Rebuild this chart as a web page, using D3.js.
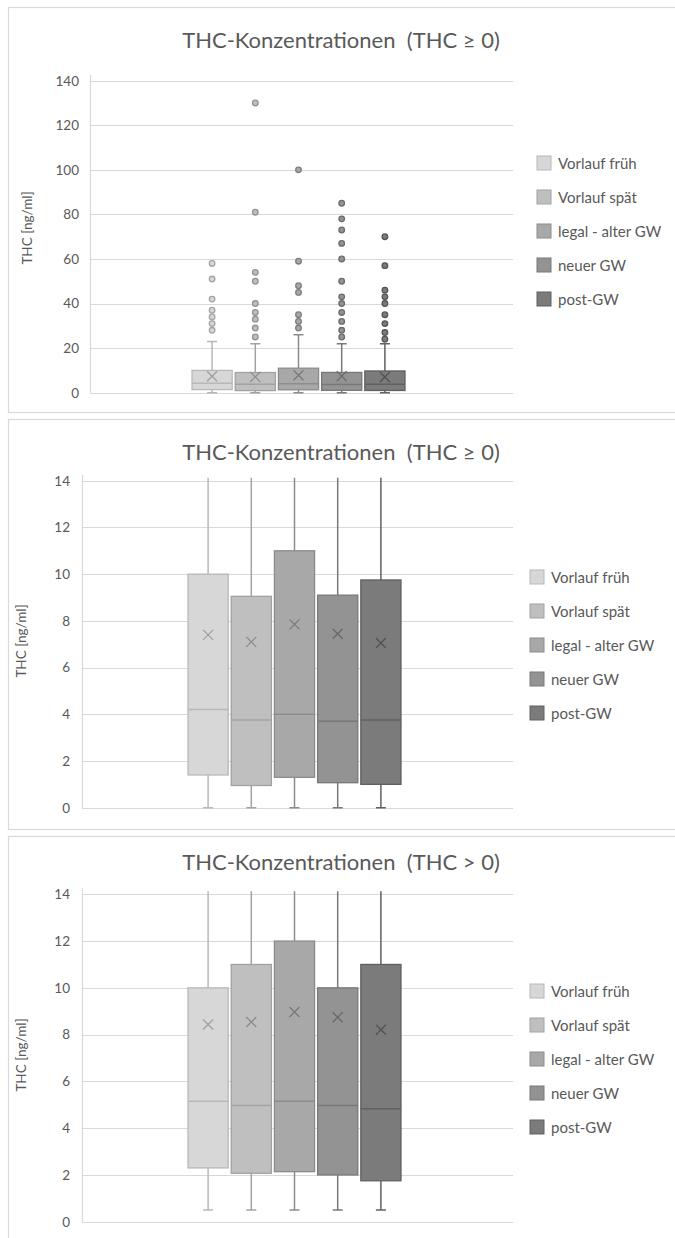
<!DOCTYPE html>
<html>
<head>
<meta charset="utf-8">
<script src="https://cdn.jsdelivr.net/npm/d3@7"></script>
<style>
  html, body { margin: 0; padding: 0; background: #ffffff; }
  svg { display: block; font-family: Lato, "Open Sans", sans-serif; }
</style>
</head>
<body>
<svg id="chart" width="675" height="1238"></svg>
<script>
// ---------- DATA ----------
const categories = ["Vorlauf früh", "Vorlauf spät", "legal - alter GW", "neuer GW", "post-GW"];

// THC >= 0
const q1_ge0       = [1.4, 0.95, 1.3, 1.07, 1.0];
const median_ge0   = [4.2, 3.75, 4.0, 3.7, 3.75];
const q3_ge0       = [10.0, 9.05, 11.0, 9.1, 9.75];
const mean_ge0     = [7.4, 7.1, 7.85, 7.45, 7.05];
const whiskLo_ge0  = [0, 0, 0, 0, 0];
const whiskHi_ge0  = [23, 22, 26, 22, 22];
const outliers_ge0 = [
  [58, 51, 42, 37, 34, 31, 28],
  [130, 81, 54, 50, 40, 36, 33, 29, 25],
  [100, 59, 48, 45, 35, 32, 29],
  [85, 78, 73, 67, 60, 50, 43, 40, 36, 32, 28, 25],
  [70, 57, 46, 43, 40, 35, 31, 27, 24]
];

// THC > 0
const q1_gt0       = [2.3, 2.07, 2.14, 2.0, 1.75];
const median_gt0   = [5.15, 4.97, 5.15, 4.97, 4.83];
const q3_gt0       = [10.0, 11.0, 12.0, 10.0, 11.0];
const mean_gt0     = [8.43, 8.54, 8.97, 8.74, 8.21];
const whiskLo_gt0  = [0.5, 0.5, 0.5, 0.5, 0.5];
const whiskHi_gt0  = [24, 23, 27, 23, 23];
const outliers_gt0 = [[], [], [], [], []];

const ticksWide   = [0, 20, 40, 60, 80, 100, 120, 140];
const ticksNarrow = [0, 2, 4, 6, 8, 10, 12, 14];

const titles = ["THC-Konzentrationen  (THC \u2265 0)", "THC-Konzentrationen  (THC \u2265 0)", "THC-Konzentrationen  (THC > 0)"];
const yAxisLabel = "THC [ng/ml]";

const fills   = ["#d7d7d7", "#bfbfbf", "#a8a8a8", "#939393", "#7b7b7b"];
const strokes = ["#b8b8b8", "#a2a2a2", "#8c8c8c", "#787878", "#606060"];

// ---------- DRAW ----------
const svg = d3.select("#chart");
const textCol = "#595959";
const gridCol = "#d9d9d9";

function buildSeries(q1, med, q3, mean, lo, hi, outl) {
  return categories.map((c, i) => ({
    cat: c, i, q1: q1[i], med: med[i], q3: q3[i], mean: mean[i],
    lo: lo[i], hi: hi[i], out: outl[i]
  }));
}

function drawPanel(cfg) {
  const g = svg.append("g");
  // frame
  g.append("rect")
    .attr("x", 8.5).attr("y", cfg.frameTop + 0.5)
    .attr("width", 700).attr("height", cfg.frameBottom - cfg.frameTop)
    .attr("fill", "#fff").attr("stroke", gridCol).attr("stroke-width", 1.2);

  // title
  g.append("text")
    .attr("x", 341).attr("y", cfg.titleY)
    .attr("text-anchor", "middle")
    .attr("font-size", 22).attr("fill", textCol)
    .style("white-space", "pre")
    .text(cfg.title);

  const y = d3.scaleLinear().domain([0, cfg.max]).range([cfg.bottom, cfg.top]);

  // gridlines
  g.selectAll(".grid").data(cfg.ticks).enter().append("line")
    .attr("x1", cfg.left).attr("x2", cfg.right)
    .attr("y1", d => Math.round(y(d)) + 0.5).attr("y2", d => Math.round(y(d)) + 0.5)
    .attr("stroke", gridCol).attr("stroke-width", 1.2);

  // y axis line
  g.append("line")
    .attr("x1", cfg.left + 0.5).attr("x2", cfg.left + 0.5)
    .attr("y1", cfg.top - 6).attr("y2", cfg.bottom)
    .attr("stroke", gridCol).attr("stroke-width", 1.2);

  // tick labels via axis
  const axis = d3.axisLeft(y).tickValues(cfg.ticks).tickSize(0).tickPadding(0);
  const ax = g.append("g").attr("transform", `translate(${cfg.tickX},0)`).call(axis);
  ax.select(".domain").remove();
  ax.selectAll("text").attr("font-size", 13.5).attr("fill", textCol)
    .attr("font-family", "Lato, 'Open Sans', sans-serif");

  // y axis title
  g.append("text")
    .attr("transform", `translate(${cfg.labelX},${cfg.labelY}) rotate(-90)`)
    .attr("text-anchor", "middle").attr("font-size", 13.5).attr("fill", textCol)
    .text(yAxisLabel);

  // x band scales
  const center = (cfg.left + cfg.right) / 2 - 3;
  const x = d3.scaleBand().domain(categories)
    .range([center - 108, center + 108]).paddingInner(0.07).paddingOuter(0.035);
  const bw = x.bandwidth();

  // clip
  const clipId = "clip" + cfg.id;
  svg.append("clipPath").attr("id", clipId).append("rect")
    .attr("x", cfg.left).attr("y", cfg.top - 3).attr("width", cfg.right - cfg.left).attr("height", cfg.bottom - cfg.top + 6);

  const plot = g.append("g").attr("clip-path", `url(#${clipId})`);
  const data = cfg.data;

  const boxes = plot.selectAll(".box").data(data).enter().append("g");
  const cx = d => x(d.cat) + bw / 2;
  const capW = 10;

  // whiskers
  boxes.append("line")
    .attr("x1", cx).attr("x2", cx)
    .attr("y1", d => y(d.q3)).attr("y2", d => y(d.hi))
    .attr("stroke", d => strokes[d.i]).attr("stroke-width", 1.5);
  boxes.append("line")
    .attr("x1", cx).attr("x2", cx)
    .attr("y1", d => y(d.q1)).attr("y2", d => y(d.lo))
    .attr("stroke", d => strokes[d.i]).attr("stroke-width", 1.5);
  boxes.append("line")
    .attr("x1", d => cx(d) - capW / 2).attr("x2", d => cx(d) + capW / 2)
    .attr("y1", d => y(d.hi)).attr("y2", d => y(d.hi))
    .attr("stroke", d => strokes[d.i]).attr("stroke-width", 1.5);
  boxes.append("line")
    .attr("x1", d => cx(d) - capW / 2).attr("x2", d => cx(d) + capW / 2)
    .attr("y1", d => y(d.lo)).attr("y2", d => y(d.lo))
    .attr("stroke", d => strokes[d.i]).attr("stroke-width", 1.5);

  // boxes
  boxes.append("rect")
    .attr("x", d => x(d.cat)).attr("width", bw)
    .attr("y", d => y(d.q3)).attr("height", d => y(d.q1) - y(d.q3))
    .attr("fill", d => fills[d.i]).attr("stroke", d => strokes[d.i]).attr("stroke-width", 1.3);

  // median
  boxes.append("line")
    .attr("x1", d => x(d.cat)).attr("x2", d => x(d.cat) + bw)
    .attr("y1", d => y(d.med)).attr("y2", d => y(d.med))
    .attr("stroke", d => strokes[d.i]).attr("stroke-width", 1.5);

  // mean X
  const m = 5;
  boxes.append("path")
    .attr("d", d => {
      const X = cx(d), Y = y(d.mean);
      return `M${X - m},${Y - m}L${X + m},${Y + m}M${X - m},${Y + m}L${X + m},${Y - m}`;
    })
    .attr("stroke", d => d3.color(strokes[d.i]).darker(0.4)).attr("stroke-width", 1.3).attr("fill", "none");

  // outliers
  boxes.each(function (d) {
    d3.select(this).selectAll("circle").data(d.out).enter().append("circle")
      .attr("cx", cx(d)).attr("cy", v => y(v)).attr("r", 2.8)
      .attr("fill", fills[d.i]).attr("stroke", d3.color(strokes[d.i]).darker(0.3)).attr("stroke-width", 1.3);
  });

  // legend
  const leg = g.selectAll(".leg").data(categories).enter().append("g")
    .attr("transform", (d, i) => `translate(${cfg.legX},${cfg.legY + i * 34})`);
  leg.append("rect").attr("x", 0).attr("y", -7).attr("width", 14).attr("height", 14)
    .attr("fill", (d, i) => fills[i]).attr("stroke", (d, i) => strokes[i]).attr("stroke-width", 1);
  leg.append("text").attr("x", 21).attr("y", 5.5).attr("font-size", 15).attr("fill", textCol).text(d => d);
}

drawPanel({
  id: 1, frameTop: 7, frameBottom: 412, titleY: 48, title: titles[0],
  max: 140, ticks: ticksWide, top: 80.7, bottom: 392.7, left: 90, right: 513,
  tickX: 79, labelX: 32, labelY: 228, legX: 537, legY: 163,
  data: buildSeries(q1_ge0, median_ge0, q3_ge0, mean_ge0, whiskLo_ge0, whiskHi_ge0, outliers_ge0)
});
drawPanel({
  id: 2, frameTop: 419, frameBottom: 829, titleY: 460, title: titles[1],
  max: 14, ticks: ticksNarrow, top: 480.7, bottom: 807.7, left: 82, right: 513,
  tickX: 70, labelX: 26, labelY: 641, legX: 530, legY: 577,
  data: buildSeries(q1_ge0, median_ge0, q3_ge0, mean_ge0, whiskLo_ge0, whiskHi_ge0, outliers_ge0)
});
drawPanel({
  id: 3, frameTop: 836, frameBottom: 1260, titleY: 870, title: titles[2],
  max: 14, ticks: ticksNarrow, top: 894.3, bottom: 1221.7, left: 82, right: 513,
  tickX: 70, labelX: 26, labelY: 1055, legX: 530, legY: 991,
  data: buildSeries(q1_gt0, median_gt0, q3_gt0, mean_gt0, whiskLo_gt0, whiskHi_gt0, outliers_gt0)
});
</script>
</body>
</html>
